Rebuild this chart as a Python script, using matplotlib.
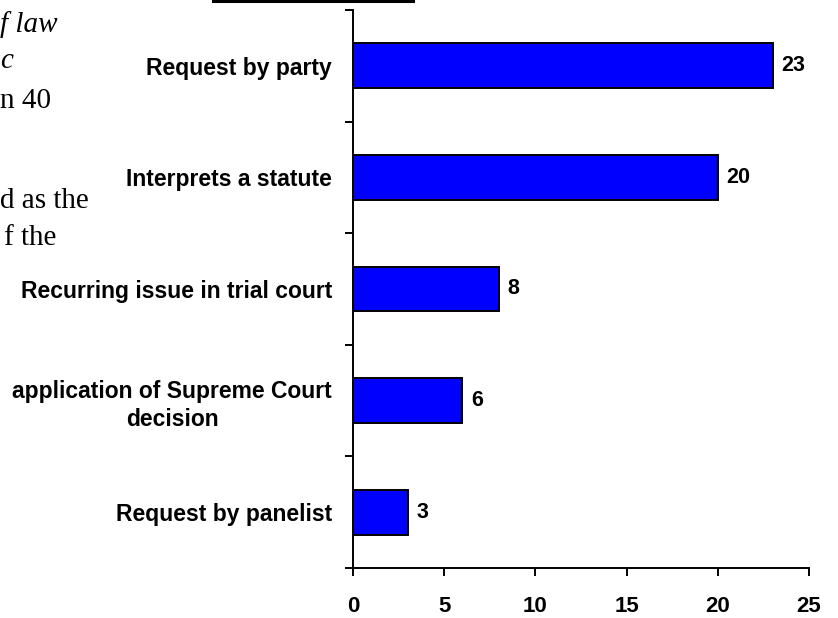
import numpy as np
import matplotlib.pyplot as plt
import matplotlib as mpl
from matplotlib.lines import Line2D

mpl.rcParams['font.family'] = 'Liberation Sans'

# data
categories = ['Request by party', 'Interprets a statute', 'Recurring issue in trial court',
              'application of Supreme Court\ndecision', 'Request by panelist']
counts = [23, 20, 8, 6, 3]
x_ticks = [0, 5, 10, 15, 20, 25]

# page text fragments around the chart (cut off on the left)
side_text = ['f law', 'c', 'n 40', 'd as the', 'f the']
side_italic = [True, True, False, False, False]
side_x = [0, 0, 0, 0, 4]
side_base = [32, 68, 108, 208, 245]

W, H = 838, 618
fig = plt.figure(figsize=(W / 100, H / 100), dpi=100)
ax = fig.add_axes([353 / W, 1 - 568 / H, (809 - 353) / W, (568 - 10) / H])

ypos = np.arange(len(categories))[::-1]
bars = ax.barh(ypos, counts, height=0.4, color='#0000ff', edgecolor='black', linewidth=1.4)

for y, v in zip(ypos, counts):
    ax.annotate(str(v), (v, y), xytext=(6, 0), textcoords='offset points',
                va='center', ha='left', fontsize=15.5, fontweight='bold')

ax.set_xlim(0, 25)
ax.set_ylim(-0.5, len(categories) - 0.5)
ax.set_xticks(x_ticks)
ax.set_xticklabels([str(t) for t in x_ticks], fontsize=16, fontweight='bold')

ax.set_yticks(np.arange(-0.5, len(categories), 1.0))
ax.set_yticklabels([])
ax.set_yticks(ypos, minor=True)
ax.set_yticklabels(categories, minor=True, fontsize=16.5, fontweight='bold',
                   multialignment='center', linespacing=1.3)
ax.tick_params(axis='y', which='minor', length=0, pad=15)
ax.tick_params(axis='y', which='major', direction='out', length=6, width=1.4)
ax.tick_params(axis='x', direction='out', length=6, width=1.4, pad=14)

for s in ['top', 'right']:
    ax.spines[s].set_visible(False)
for s in ['left', 'bottom']:
    ax.spines[s].set_linewidth(1.4)

for t, it, x, b in zip(side_text, side_italic, side_x, side_base):
    fig.text(x / W, 1 - b / H, t, family='Liberation Serif', fontsize=21,
             style='italic' if it else 'normal', va='baseline', ha='left')

fig.add_artist(Line2D([213 / W, 413 / W], [1 - 1 / H, 1 - 1 / H], color='black',
                      linewidth=2.2, transform=fig.transFigure))

fig.savefig('out.png', dpi=100)
